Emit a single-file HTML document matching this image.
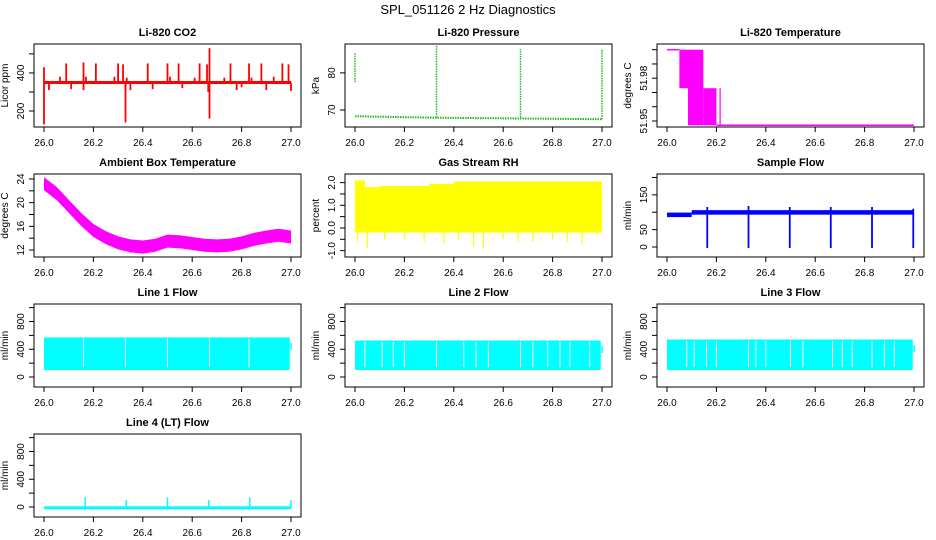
<!DOCTYPE html>
<html><head><meta charset="utf-8"><style>
body{margin:0;background:#fff}
svg{display:block;font-family:"Liberation Sans",Arial,sans-serif}
</style></head><body>
<svg id="c" width="936" height="540" viewBox="0 0 936 540">
<text x="468" y="14" text-anchor="middle" font-size="13">SPL_051126  2 Hz Diagnostics</text>
</svg>
<script>
const xTicks=[26.0,26.2,26.4,26.6,26.8,27.0];
const xTickLabels=["26.0","26.2","26.4","26.6","26.8","27.0"];
// CO2
const co2Base=350;
const co2SpikeX=[26.0,26.0,26.02,26.065,26.09,26.11,26.16,26.16,26.17,26.21,26.285,26.30,26.32,26.33,26.33,26.335,26.35,26.42,26.44,26.50,26.51,26.545,26.56,26.61,26.63,26.66,26.665,26.67,26.67,26.73,26.755,26.78,26.80,26.83,26.84,26.88,26.90,26.93,26.965,26.99,27.0];
const co2SpikeY=[430,130,310,380,450,315,455,310,380,450,380,450,445,140,305,375,310,450,315,450,380,450,320,375,450,445,300,530,160,375,450,310,325,450,375,450,310,380,450,445,305];
// Pressure
const presBaseX=[26.0,26.33,26.67,27.0];
const presBaseY=[68.3,67.9,67.7,67.5];
const presSpikeX=[26.0,26.33,26.67,27.0];
const presSpikeLo=[77.5,68.0,68.0,67.5];
const presSpikeHi=[85.3,87.5,86.5,86.5];
// Li-820 temperature band segments
const ltX0=[26.05,26.085,26.147];
const ltX1=[26.085,26.147,26.2];
const ltLo=[51.973,51.947,51.947];
const ltHi=[52.0,52.0,51.973];
// Ambient temperature
const ambX=[26.0,26.05,26.1,26.15,26.2,26.25,26.3,26.35,26.4,26.45,26.5,26.55,26.6,26.65,26.7,26.75,26.8,26.85,26.9,26.95,27.0];
const ambY=[23.2,21.6,19.4,17.2,15.3,14.1,13.2,12.7,12.5,12.8,13.5,13.4,13.1,12.8,12.7,12.8,13.2,13.8,14.2,14.5,14.2];
const ambHalf=1.1;
// Gas stream RH
const rhX0=[26.0,26.04,26.1,26.3,26.4];
const rhX1=[26.04,26.1,26.3,26.4,27.0];
const rhHi=[2.1,1.8,1.85,1.95,2.05];
const rhLo=[-0.2,-0.2,-0.2,-0.2,-0.2];
const rhDipX=[26.01,26.05,26.12,26.2,26.28,26.36,26.42,26.48,26.52,26.6,26.66,26.72,26.8,26.86,26.92,26.98];
const rhDipY=[-0.6,-0.9,-0.5,-0.5,-0.6,-0.7,-0.5,-0.8,-0.9,-0.5,-0.6,-0.6,-0.5,-0.6,-0.7,-0.3];
// Sample flow
const sfX0=[26.0,26.1];
const sfX1=[26.1,27.0];
const sfY=[93,100];
const sfDipX=[26.163,26.33,26.497,26.663,26.83,26.997];
const sfDipLo=[-3,-3,-3,-3,-3,-3];
const sfDipHi=[115,118,115,115,115,110];
// Line flows
const l1Lo=100, l1Hi=570;
const l1Gaps=[26.16,26.33,26.5,26.67,26.83];
const l2Lo=100, l2Hi=525;
const l2Gaps=[26.04,26.11,26.155,26.2,26.33,26.44,26.49,26.54,26.67,26.72,26.78,26.83,26.87,26.95];
const l3Lo=100, l3Hi=540;
const l3Gaps=[26.08,26.11,26.16,26.2,26.33,26.36,26.4,26.5,26.55,26.67,26.71,26.75,26.83,26.88,26.92];
const l4Base=-10;
const l4SpikeX=[26.167,26.333,26.5,26.667,26.833,27.0];
const l4SpikeY=[140,100,140,100,140,100];

const NS="http://www.w3.org/2000/svg";
const svg=document.getElementById('c');
function mk(tag,attrs,parent){const e=document.createElementNS(NS,tag);for(const k in attrs)e.setAttribute(k,attrs[k]);(parent||svg).appendChild(e);return e;}
const colL=[34,345,657], rowT=[44,174,304,434], W=267, H=83;
function panel(c,r,ymin,ymax,yticks,ylabels,ytitle,title,name){
  const L=colL[c],T=rowT[r],B=T+H,R=L+W;
  const g=mk('g',{});
  
  
  const X=v=>L+10+(v-26)*247;
  const Y=v=>B-(v-ymin)/(ymax-ymin)*H;
  const t=mk('text',{x:(L+R)/2,y:T-8,'text-anchor':'middle','font-size':11,'font-weight':'bold'},g);t.textContent=title;
  
  
  const plot=mk('g',{},g);
  
  
  const box=mk('rect',{x:L,y:T,width:W,height:H,fill:'none',stroke:'#000','stroke-width':1},g);
  
  
  xTicks.forEach((v,i)=>{mk('line',{x1:X(v),x2:X(v),y1:B,y2:B+5,stroke:'#000'},g);
    const tx=mk('text',{x:X(v),y:B+19,'text-anchor':'middle','font-size':10},g);tx.textContent=xTickLabels[i];
    
    });
  yticks.forEach((v,i)=>{mk('line',{x1:L-5,x2:L,y1:Y(v),y2:Y(v),stroke:'#000'},g);
    if(ylabels[i]){const ty=mk('text',{x:L-10,y:Y(v),'text-anchor':'middle','font-size':10,transform:`rotate(-90 ${L-10} ${Y(v)})`},g);ty.textContent=ylabels[i];
    
    }});
  const yt=mk('text',{x:L-26,y:(T+B)/2,'text-anchor':'middle','font-size':10,transform:`rotate(-90 ${L-26} ${(T+B)/2})`},g);yt.textContent=ytitle;
  
  
  return {X,Y,g:plot};
}
function vline(p,x,y0,y1,col,w,extra){const e=mk('line',Object.assign({x1:p.X(x),x2:p.X(x),y1:p.Y(y0),y2:p.Y(y1),stroke:col,'stroke-width':w||1.5},extra||{}),p.g);return e;}
function hline(p,x0,x1,y,col,w,extra){const e=mk('line',Object.assign({x1:p.X(x0),x2:p.X(x1),y1:p.Y(y),y2:p.Y(y),stroke:col,'stroke-width':w||1.5},extra||{}),p.g);return e;}
function rect(p,x0,x1,lo,hi,col){const e=mk('rect',{x:p.X(x0),y:p.Y(hi),width:p.X(x1)-p.X(x0),height:p.Y(lo)-p.Y(hi),fill:col},p.g);return e;}

// CO2
let p=panel(0,0,116,552,[200,300,400,500],["200","","400",""],"Licor ppm","Li-820 CO2","co2");
hline(p,26,27,co2Base,'#f00',3);
co2SpikeX.forEach((x,i)=>vline(p,x,co2Base,co2SpikeY[i],'#f00',1.8));
// Pressure
p=panel(1,0,65.4,87.8,[70,80],["70","80"],"kPa","Li-820 Pressure","pressure");
const pl=mk('polyline',{points:presBaseX.map((x,i)=>p.X(x)+','+p.Y(presBaseY[i])).join(' '),fill:'none',stroke:'#22bb22','stroke-width':2,'stroke-dasharray':'1.5 1'},p.g);


presSpikeX.forEach((x,i)=>vline(p,x,presSpikeLo[i],presSpikeHi[i],'#22bb22',1.5,{'stroke-dasharray':'1.5 1'}));
// Li temp
p=panel(2,0,51.9458,52.004,[51.95,51.96,51.97,51.98,51.99,52.0],["51.95","","","51.98","",""],"degrees C","Li-820 Temperature","li820-temp");
hline(p,26.0,26.05,52.0,'#f0f',1.5);
ltX0.forEach((x,i)=>rect(p,x,ltX1[i],ltLo[i],ltHi[i],'#f0f'));
vline(p,26.215,51.947,51.973,'#f0f',1.2);
hline(p,26.2,27.0,51.947,'#f0f',1.5);
// Ambient
p=panel(0,1,10.82,24.84,[12,14,16,18,20,22,24],["12","","16","","20","","24"],"degrees C","Ambient Box Temperature","ambient-temp");
const poly=ambX.map((x,i)=>p.X(x)+','+p.Y(ambY[i]+ambHalf)).concat(ambX.slice().reverse().map((x,i)=>p.X(x)+','+p.Y(ambY[ambX.length-1-i]-ambHalf)));
const ap=mk('polygon',{points:poly.join(' '),fill:'#f0f'},p.g);


// RH
p=panel(1,1,-1.28,2.38,[-1,-0.5,0,0.5,1,1.5,2],["-1.0","","0.0","","1.0","","2.0"],"percent","Gas Stream RH","rh");
rhX0.forEach((x,i)=>rect(p,x,rhX1[i],rhLo[i],rhHi[i],'#ff0'));
rhDipX.forEach((x,i)=>vline(p,x,0,rhDipY[i],'#ff0',1.2));
// Sample flow
p=panel(2,1,-28.8,210,[0,50,100,150,200],["0","50","","150",""],"ml/min","Sample Flow","sample-flow");
sfX0.forEach((x,i)=>rect(p,x,sfX1[i],sfY[i]-7,sfY[i]+6,'#00f'));
sfDipX.forEach((x,i)=>vline(p,x,sfDipLo[i],sfDipHi[i],'#00f',1.8));
// Line flows
const fticks=[0,200,400,600,800,1000], flabs=["0","","400","","800",""];
function flowPanel(c,r,lo,hi,gaps,title,name){
  const q=panel(c,r,-144,1052,fticks,flabs,"ml/min",title,name);
  rect(q,26.0,26.995,lo,hi,'#0ff');
  vline(q,27.0,hi-180,hi-80,'#0ff',1.5);
  gaps.forEach(x=>vline(q,x,lo+40,hi-20,'#fff',1));
}
flowPanel(0,2,l1Lo,l1Hi,l1Gaps,"Line 1 Flow","line1-flow");
flowPanel(1,2,l2Lo,l2Hi,l2Gaps,"Line 2 Flow","line2-flow");
flowPanel(2,2,l3Lo,l3Hi,l3Gaps,"Line 3 Flow","line3-flow");
p=panel(0,3,-144,1052,fticks,flabs,"ml/min","Line 4 (LT) Flow","line4-flow");
hline(p,26,27,l4Base,'#0ff',3);
l4SpikeX.forEach((x,i)=>vline(p,x,l4Base,l4SpikeY[i],'#0ff',1.5));
</script>
</body></html>
